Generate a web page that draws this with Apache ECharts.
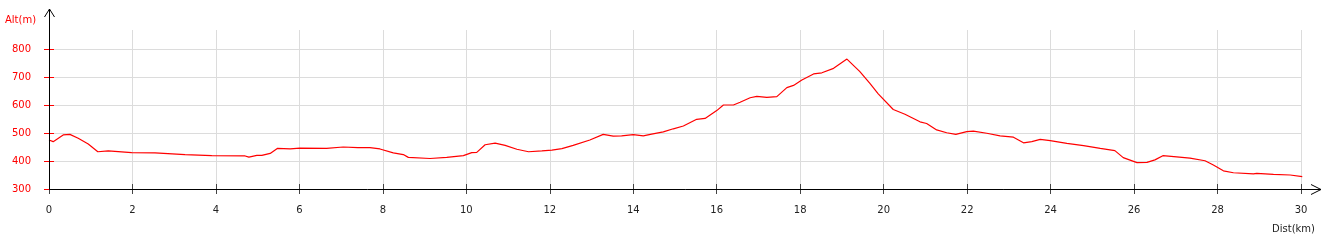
<!DOCTYPE html>
<html><head><meta charset="utf-8">
<script src="https://cdn.jsdelivr.net/npm/echarts@6/dist/echarts.min.js"></script>
<style>html,body{margin:0;padding:0;background:#fff}#c{width:1326px;height:240px}</style>
</head><body><div id="c"></div>
<script>
const dist = [0,0.1,0.34,0.5,0.7,0.94,1.17,1.42,1.98,2.54,3.26,3.9,4.7,4.79,4.98,5.1,5.3,5.47,5.78,6.01,6.65,7.05,7.4,7.69,7.93,8.25,8.49,8.61,9.13,9.53,9.93,10.13,10.25,10.45,10.69,10.93,11.21,11.49,11.81,12.05,12.29,12.56,12.96,13.28,13.52,13.72,14.0,14.24,14.44,14.72,14.96,15.2,15.52,15.72,16.0,16.16,16.4,16.56,16.8,16.96,17.2,17.44,17.68,17.84,18.04,18.32,18.52,18.8,19.12,19.15,19.43,19.67,19.87,20.23,20.51,20.87,21.03,21.27,21.51,21.73,21.99,22.15,22.47,22.79,23.11,23.35,23.55,23.75,23.99,24.39,24.79,25.19,25.54,25.74,26.07,26.31,26.5,26.69,27.02,27.34,27.7,27.9,28.14,28.38,28.86,28.94,29.34,29.74,30.03];
const alt = [475,469,493,495,481,461,433,436,430,429,423,419,418,414,420,420,427,445,443,446,445,450,448,448,443,429,423,413,409,413,419,430,431,458,464,456,442,433,436,439,444,456,475,495,489,490,494,490,496,504,515,525,549,552,580,600,600,610,626,631,627,630,662,670,689,711,715,731,764,764,719,677,640,584,567,540,534,511,501,495,505,507,499,490,485,465,469,477,473,463,455,445,437,412,394,395,404,419,415,410,401,386,365,358,354,356,352,350,344];
const xMin = 0, xMax = 30, xStep = 2;
const yMin = 300, yMax = 800, yStep = 100;
const yName = 'Alt(m)', xName = 'Dist(km)';

const font = 'DejaVu Sans';
const chart = echarts.init(document.getElementById('c'));
chart.setOption({
  animation: false,
  grid: [
    {left: 49, right: 25, top: 49, bottom: 51},
    {left: 49, right: 25, top: 30, bottom: 51}
  ],
  xAxis: [
    {type: 'value', gridIndex: 0, min: xMin, max: xMax, interval: xStep, offset: -5,
     axisLine: {show: false}, splitLine: {show: false},
     axisTick: {show: true, length: 10, lineStyle: {color: '#444'}},
     axisLabel: {margin: 21, color: '#222', fontFamily: font, fontSize: 10}},
    {type: 'value', gridIndex: 1, min: xMin, max: xMax, interval: xStep,
     axisLine: {show: false}, axisTick: {show: false}, axisLabel: {show: false},
     splitLine: {show: true, lineStyle: {color: '#dcdcdc', width: 1}}}
  ],
  yAxis: [
    {type: 'value', gridIndex: 0, min: yMin, max: yMax, interval: yStep, offset: -5,
     axisLine: {show: false},
     axisTick: {show: true, length: 10, lineStyle: {color: '#ff0000'}},
     axisLabel: {margin: 23, color: '#ff0000', fontFamily: font, fontSize: 10},
     splitLine: {show: true, lineStyle: {color: '#dcdcdc', width: 1}}},
    {type: 'value', gridIndex: 1, min: 0, max: 1, show: false}
  ],
  series: [{
    type: 'line', xAxisIndex: 0, yAxisIndex: 0, symbol: 'none', smooth: false,
    lineStyle: {color: '#ff0000', width: 1.2},
    data: dist.map((d, i) => [d, alt[i]])
  }]
});

const o = chart.convertToPixel({gridIndex: 0}, [xMin, yMin]);
const ox = Math.round(o[0]) + 0.5, oy = Math.round(o[1]) + 0.5;
const xEnd = 1321, yTop = 9;
chart.setOption({
  graphic: [
    {type: 'polyline', shape: {points: [[ox, oy], [xEnd, oy]]}, style: {stroke: '#000', lineWidth: 1}, z: 10},
    {type: 'polyline', shape: {points: [[ox, oy], [ox, yTop]]}, style: {stroke: '#000', lineWidth: 1}, z: 10},
    {type: 'polyline', shape: {points: [[xEnd - 10, oy - 5], [xEnd, oy], [xEnd - 10, oy + 5]]}, style: {stroke: '#000', fill: null, lineWidth: 1}, z: 10},
    {type: 'polyline', shape: {points: [[ox - 5, yTop + 8], [ox, yTop], [ox + 5, yTop + 8]]}, style: {stroke: '#000', fill: null, lineWidth: 1}, z: 10},
    {type: 'text', left: 5, top: 15, style: {text: yName, fill: '#ff0000', font: '10px "DejaVu Sans"'}},
    {type: 'text', right: 11, top: 224, style: {text: xName, fill: '#222', font: '10px "DejaVu Sans"'}}
  ]
});
</script></body></html>
